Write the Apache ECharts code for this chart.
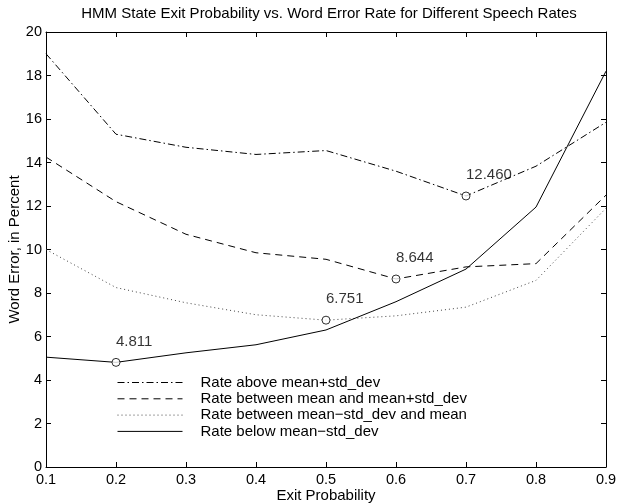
<!DOCTYPE html>
<html>
<head>
<meta charset="utf-8">
<script src="https://cdn.jsdelivr.net/npm/echarts@6/dist/echarts.min.js"></script>
<style>
html,body{margin:0;padding:0;background:#fff;}
#chart{width:618px;height:504px;}
</style>
</head>
<body>
<div id="chart"></div>
<script>
var exitProb = [0.1, 0.2, 0.3, 0.4, 0.5, 0.6, 0.7, 0.8, 0.9];
var rateAbove = [19.0, 15.3, 14.7, 14.37, 14.55, 13.6, 12.460, 13.83, 15.85];
var rateBetweenHi = [14.25, 12.2, 10.7, 9.85, 9.55, 8.644, 9.2, 9.35, 12.5];
var rateBetweenLo = [10.0, 8.25, 7.55, 7.0, 6.751, 6.95, 7.35, 8.58, 11.9];
var rateBelow = [5.05, 4.811, 5.25, 5.62, 6.3, 7.6, 9.1, 11.95, 18.2];
var seriesNames = ['Rate above mean+std_dev', 'Rate between mean and mean+std_dev', 'Rate between mean\u2212std_dev and mean', 'Rate below mean\u2212std_dev'];
var minima = [
  {series: 'below', idx: 1},
  {series: 'betweenLo', idx: 4},
  {series: 'betweenHi', idx: 5},
  {series: 'above', idx: 6}
];

var lookup = {above: rateAbove, betweenHi: rateBetweenHi, betweenLo: rateBetweenLo, below: rateBelow};
function pairs(arr) { return exitProb.map(function (x, i) { return [x, arr[i]]; }); }
var FONT = 'Liberation Sans, Arial, Helvetica, sans-serif';

var chart = echarts.init(document.getElementById('chart'), null, {renderer: 'canvas'});
var axisCommon = {
  axisLine: {show: true, onZero: false, lineStyle: {color: '#000', width: 1}},
  axisTick: {show: true, inside: true, length: 5, lineStyle: {color: '#000', width: 1}},
  splitLine: {show: false}
};
function lineSeries(name, arr, dash, color) {
  return {
    name: name, type: 'line', data: pairs(arr), symbol: 'none',
    lineStyle: {color: color, width: 1, type: dash},
    itemStyle: {color: color},
    emphasis: {disabled: true}, animation: false, z: 2
  };
}
var option = {
  animation: false,
  backgroundColor: '#fff',
  title: {
    text: 'HMM State Exit Probability vs. Word Error Rate for Different Speech Rates',
    left: 329, top: 6, textAlign: 'center', padding: 0,
    textStyle: {fontFamily: FONT, fontSize: 15, fontWeight: 'normal', color: '#000'}
  },
  grid: {left: 46, right: 12, top: 32, bottom: 37, outerBoundsMode: 'none', containLabel: false},
  legend: {
    orient: 'vertical', left: 117, top: 375, padding: 0,
    itemWidth: 65, itemHeight: 14, itemGap: 1.3,
    data: seriesNames,
    itemStyle: {opacity: 0},
    lineStyle: {width: 1},
    textStyle: {fontFamily: FONT, fontSize: 15, lineHeight: 15, color: '#000', padding: [0, 0, 0, 13]},
    selectedMode: false
  },
  xAxis: [
    Object.assign({}, axisCommon, {
      type: 'value', position: 'bottom', min: 0.1, max: 0.9, interval: 0.1,
      name: 'Exit Probability', nameLocation: 'middle', nameGap: 21, nameMoveOverlap: false,
      nameTextStyle: {fontFamily: FONT, fontSize: 15, color: '#000'},
      axisLabel: {fontFamily: FONT, fontSize: 14.5, color: '#000', margin: 5,
        formatter: function (v) { return v.toFixed(1); }}
    }),
    Object.assign({}, axisCommon, {
      type: 'value', position: 'top', min: 0.1, max: 0.9, interval: 0.1,
      axisLabel: {show: false}
    })
  ],
  yAxis: [
    Object.assign({}, axisCommon, {
      type: 'value', position: 'left', min: 0, max: 20, interval: 2,
      name: 'Word Error, in Percent', nameLocation: 'middle', nameGap: 24, nameMoveOverlap: false,
      nameTextStyle: {fontFamily: FONT, fontSize: 15, color: '#000'},
      axisLabel: {fontFamily: FONT, fontSize: 14.5, color: '#000', margin: 4}
    }),
    Object.assign({}, axisCommon, {
      type: 'value', position: 'right', min: 0, max: 20, interval: 2,
      axisLabel: {show: false}
    })
  ],
  series: [
    lineSeries(seriesNames[0], rateAbove, [7, 3, 1.5, 3], '#000'),
    lineSeries(seriesNames[1], rateBetweenHi, [7, 5], '#000'),
    lineSeries(seriesNames[2], rateBetweenLo, [1, 3], '#444'),
    lineSeries(seriesNames[3], rateBelow, 'solid', '#000'),
    {
      name: 'minima', type: 'scatter', symbol: 'circle', symbolSize: 8,
      data: minima.map(function (m) { return [exitProb[m.idx], lookup[m.series][m.idx]]; }),
      itemStyle: {color: '#fff', borderColor: '#000', borderWidth: 1},
      label: {
        show: true, position: 'top', align: 'left', distance: 9,
        fontFamily: FONT, fontSize: 15, color: '#000',
        formatter: function (p) { return p.value[1].toFixed(3); }
      },
      emphasis: {disabled: true}, z: 3
    }
  ]
};
chart.setOption(option);
</script>
</body>
</html>
